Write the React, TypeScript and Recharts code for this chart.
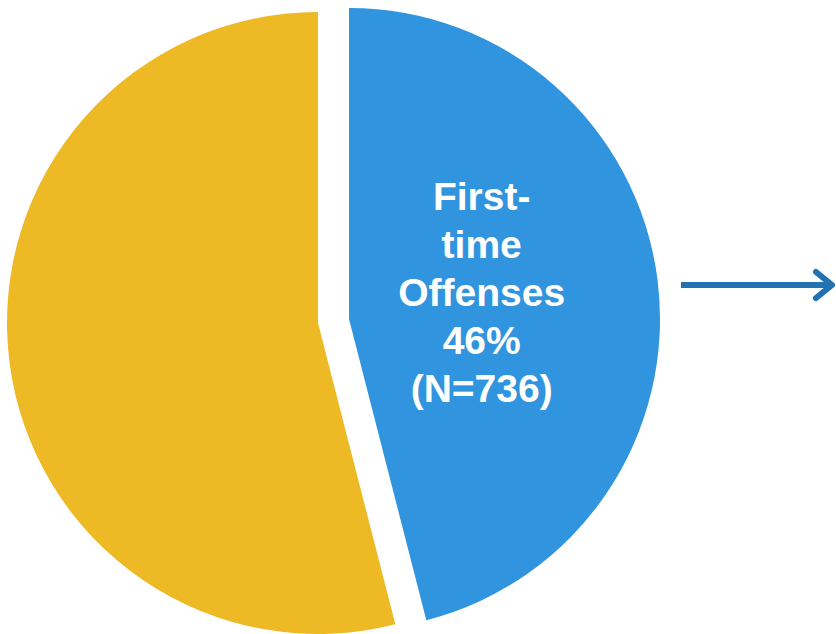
import React from 'react'
import { PieChart, Pie, Cell } from 'recharts'

const categories = ['First-time Offenses', 'Repeat Offenses']
const counts = [736, 864]
const colors = ['#3094DE', '#EDB924']
const labelLines = ['First-', 'time', 'Offenses']

const data = categories.map((name, i) => ({ name, value: counts[i] }))

const RAD = Math.PI / 180

const renderLabel = (props: any) => {
  const { cx, cy, midAngle, outerRadius, percent, value, index } = props
  if (index !== 0) return null
  const x = cx + 0.43 * outerRadius * Math.cos(-midAngle * RAD)
  const y = cy + 0.43 * outerRadius * Math.sin(-midAngle * RAD)
  const lines = [...labelLines, `${Math.round(percent * 100)}%`, `(N=${value})`]
  return (
    <text
      x={x}
      y={y - 92}
      fill="#fff"
      textAnchor="middle"
      fontFamily="Liberation Sans, Arial, sans-serif"
      fontWeight="bold"
      fontSize={39}
    >
      {lines.map((l, i) => (
        <tspan key={i} x={x} dy={i === 0 ? 0 : 48}>{l}</tspan>
      ))}
    </text>
  )
}

export default function App() {
  return (
    <div style={{ position: 'absolute', left: 0, top: 0, width: 836, height: 634 }}>
      <PieChart width={836} height={634} margin={{ top: 0, right: 0, bottom: 0, left: 0 }}>
        <Pie
          data={data}
          dataKey="value"
          cx={318}
          cy={323}
          outerRadius={311}
          startAngle={90}
          endAngle={-270}
          stroke="none"
          isAnimationActive={false}
        >
          {data.map((d, i) => (
            <Cell key={d.name} fill={i === 1 ? colors[1] : 'transparent'} />
          ))}
        </Pie>
        <Pie
          data={data}
          dataKey="value"
          cx={349}
          cy={319}
          outerRadius={311}
          startAngle={90}
          endAngle={-270}
          stroke="none"
          label={renderLabel}
          labelLine={false}
          isAnimationActive={false}
        >
          {data.map((d, i) => (
            <Cell key={d.name} fill={i === 0 ? colors[0] : 'transparent'} />
          ))}
        </Pie>
      </PieChart>
      <svg width={836} height={634} style={{ position: 'absolute', left: 0, top: 0, pointerEvents: 'none' }}>
        <line x1={681} y1={285} x2={832} y2={285} stroke="#2271B1" strokeWidth={6} />
        <polyline
          points="816,272 832,285 816,298"
          fill="none"
          stroke="#2271B1"
          strokeWidth={6}
          strokeLinecap="round"
          strokeLinejoin="round"
        />
      </svg>
    </div>
  )
}
